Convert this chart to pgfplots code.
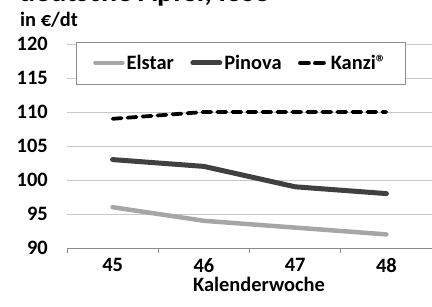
\documentclass[border=0pt]{standalone}
\usepackage{pgfplots}
\pgfplotsset{compat=1.18}
\usepackage{fontspec}
\setmainfont{Carlito}
\definecolor{elstar}{HTML}{A6A6A6}
\definecolor{pinova}{HTML}{404040}
\definecolor{gridc}{HTML}{C8C8C8}
\definecolor{axc}{HTML}{8C8C8C}
\newcommand{\lblfont}{\fontsize{20.5}{22}\selectfont\bfseries}
\begin{document}
\begin{tikzpicture}[x=1bp,y=1bp]
\path[use as bounding box] (0,0) rectangle (432,307);
\node[anchor=base west, inner sep=0pt, font=\fontsize{30}{32}\selectfont\bfseries] at (19,305.5) {deutsche Äpfel, lose};
\node[anchor=base west, inner sep=0pt, font=\lblfont] at (20,280.5) {in €/dt};
\begin{axis}[at={(67bp,59bp)}, anchor=south west, scale only axis,
  width=365bp, height=204bp,
  xmin=-0.5, xmax=3.5, ymin=90, ymax=120,
  xtick={0,1,2,3}, xticklabels={45,46,47,48},
  minor xtick={-0.5,0.5,1.5,2.5,3.5},
  ytick={90,95,100,105,110,115,120},
  axis x line*=bottom, axis y line*=left,
  axis line style={-},
  x axis line style={draw=axc, line width=0.75bp},
  y axis line style={draw=none},
  tick align=outside,
  major tick length=0pt, minor tick length=5bp,
  major tick style={draw=none},
  minor x tick style={draw=axc, line width=0.75bp},
  ymajorgrids, major grid style={draw=gridc, line width=0.6bp},
  /pgf/number format/assume math mode=true,
  every tick label/.append style={font=\lblfont},
  yticklabel style={anchor=east, inner sep=0pt, xshift=-19bp},
  xticklabel style={anchor=north, inner sep=0pt, yshift=-10bp},
  xlabel={Kalenderwoche},
  xlabel style={at={(axis description cs:0.526,0)}, anchor=base, yshift=-43bp, inner sep=0pt, font=\lblfont},
  legend columns=3,
  legend image code/.code={\draw[#1] (0bp,0bp) -- (27bp,0bp);},
  legend style={at={(0.476,0.907)}, anchor=center, draw=axc, line width=0.75bp, fill=white,
    font=\lblfont, inner xsep=17bp, inner ysep=12bp,
    nodes={inner xsep=2bp, inner ysep=1bp},
    /tikz/every even column/.append style={column sep=14.5bp}},
]
\addplot[elstar, line width=4.5bp, line cap=round] coordinates {(0,96) (1,94) (2,93) (3,92)};
\addlegendentry{Elstar}
\addplot[pinova, line width=5bp, line cap=round] coordinates {(0,103) (1,102) (2,99) (3,98)};
\addlegendentry{Pinova}
\addplot[black, line width=3.75bp, line cap=round, dash pattern=on 9bp off 6bp] coordinates {(0,109) (1,110) (2,110) (3,110)};
\addlegendentry{Kanzi®}
\end{axis}
\end{tikzpicture}
\end{document}
